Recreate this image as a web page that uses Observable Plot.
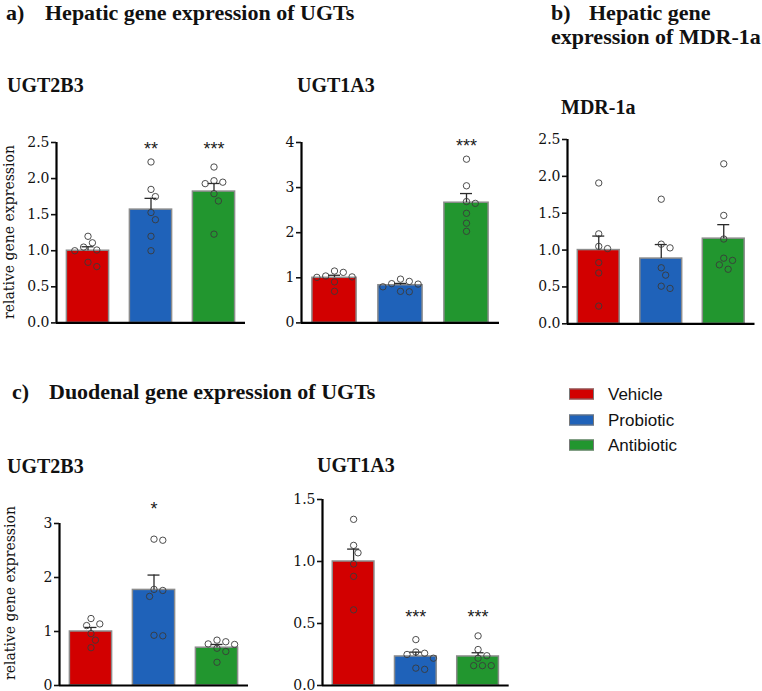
<!DOCTYPE html>
<html><head><meta charset="utf-8">
<script src="https://cdn.jsdelivr.net/npm/d3@7"></script>
<script src="https://cdn.jsdelivr.net/npm/@observablehq/plot@0.6"></script>
<style>
body{margin:0;background:#fff;}
#fig{position:relative;width:762px;height:691px;overflow:hidden;background:#fff;}
.t{position:absolute;white-space:nowrap;font-family:"Liberation Serif",serif;font-weight:bold;color:#111;line-height:1.1;transform:translateY(-50%);}
.h{font-size:22px;}
.g{font-size:20px;}
.yl{position:absolute;font-family:"DejaVu Serif",serif;font-size:14px;white-space:nowrap;color:#111;line-height:1;transform:translate(-50%,-50%) rotate(-90deg);}
.pl{position:absolute;}
.lg{position:absolute;font-family:"Liberation Sans",Arial,sans-serif;font-size:17px;color:#111;line-height:1;transform:translateY(-50%);white-space:nowrap;}
.sw{position:absolute;width:25px;height:11px;box-sizing:border-box;border:1px solid #777;transform:translateY(-50%);}
</style></head>
<body>
<div id="fig"></div>
<script>
// ---------- data ----------
const groups = ["Vehicle", "Probiotic", "Antibiotic"];
const groupColors = ["#d20000", "#1f62b9", "#22962f"];

// a) Hepatic UGT2B3
const hepUGT2B3_vehicle    = [1.20, 1.11, 1.01, 1.00, 1.05, 0.84, 0.78];
const hepUGT2B3_probiotic  = [2.23, 1.85, 1.75, 1.53, 1.43, 1.20, 1.00];
const hepUGT2B3_antibiotic = [2.16, 1.97, 1.93, 1.95, 1.79, 1.69, 1.23];
const hepUGT2B3_mean = [1.00, 1.57, 1.82];
const hepUGT2B3_sem  = [0.055, 0.156, 0.112];
const hepUGT2B3_sig  = ["", "**", "***"];
const hepUGT2B3_ticks = [0, 0.5, 1, 1.5, 2, 2.5];

// a) Hepatic UGT1A3
const hepUGT1A3_vehicle    = [1.04, 1.12, 1.01, 1.15, 1.02, 0.91, 0.70];
const hepUGT1A3_probiotic  = [0.87, 0.80, 0.97, 0.92, 0.86, 0.69, 0.70];
const hepUGT1A3_antibiotic = [3.63, 3.04, 2.65, 2.69, 2.43, 2.21, 2.03];
const hepUGT1A3_mean = [1.00, 0.835, 2.665];
const hepUGT1A3_sem  = [0.056, 0.040, 0.203];
const hepUGT1A3_sig  = ["", "", "***"];
const hepUGT1A3_ticks = [0, 1, 2, 3, 4];

// b) Hepatic MDR-1a
const hepMDR1a_vehicle    = [1.91, 1.22, 1.05, 1.02, 0.83, 0.69, 0.24];
const hepMDR1a_probiotic  = [1.69, 1.03, 1.08, 0.76, 0.66, 0.48, 0.51];
const hepMDR1a_antibiotic = [2.17, 1.47, 1.15, 0.89, 0.86, 0.80, 0.74];
const hepMDR1a_mean = [1.00, 0.885, 1.155];
const hepMDR1a_sem  = [0.19, 0.19, 0.19];
const hepMDR1a_sig  = ["", "", ""];
const hepMDR1a_ticks = [0, 0.5, 1, 1.5, 2, 2.5];

// c) Duodenal UGT2B3
const duoUGT2B3_vehicle    = [1.24, 1.11, 1.14, 0.96, 0.84, 0.70];
const duoUGT2B3_probiotic  = [2.69, 2.71, 1.76, 1.78, 1.65, 0.92, 0.93];
const duoUGT2B3_antibiotic = [0.84, 0.81, 0.77, 0.76, 0.69, 0.63, 0.43];
const duoUGT2B3_mean = [1.00, 1.77, 0.70];
const duoUGT2B3_sem  = [0.075, 0.275, 0.06];
const duoUGT2B3_sig  = ["", "*", ""];
const duoUGT2B3_ticks = [0, 1, 2, 3];

// c) Duodenal UGT1A3
const duoUGT1A3_vehicle    = [1.34, 1.13, 1.07, 0.98, 0.88, 0.61];
const duoUGT1A3_probiotic  = [0.37, 0.27, 0.26, 0.25, 0.22, 0.13, 0.14];
const duoUGT1A3_antibiotic = [0.40, 0.29, 0.24, 0.22, 0.16, 0.16, 0.16];
const duoUGT1A3_mean = [1.00, 0.234, 0.234];
const duoUGT1A3_sem  = [0.10, 0.035, 0.03];
const duoUGT1A3_sig  = ["", "***", "***"];
const duoUGT1A3_ticks = [0, 0.5, 1, 1.5];

// ---------- layout ----------
const fig = document.getElementById("fig");

function addText(cls, txt, left, cy) {
  const d = document.createElement("div");
  d.className = cls; d.textContent = txt;
  d.style.left = left + "px"; d.style.top = cy + "px";
  fig.appendChild(d);
}

function dodge(vals, pxPerY, pxPerX) {
  const minD = 7.8, step = 4.4;
  const order = d3.range(vals.length).sort((a, b) => vals[b] - vals[a]);
  const placed = [], out = new Array(vals.length).fill(0);
  for (const i of order) {
    const py = vals[i] * pxPerY;
    let done = false;
    for (let k = 0; k < 30 && !done; k++) {
      const cands = k === 0 ? [0] : [k, -k];
      for (const c of cands) {
        const px = c * step;
        if (placed.every(p => Math.hypot(p[0] - px, p[1] - py) >= minD)) {
          placed.push([px, py]); out[i] = px / pxPerX; done = true; break;
        }
      }
    }
  }
  return out;
}

function panel(cfg) {
  const mL = 42, mR = 6, mT = 34, mB = 8;
  const pw = cfg.x1 - cfg.x0, ph = cfg.yBot - cfg.yTop;
  const width = mL + pw + mR, height = mT + ph + mB;
  const pxPerX = pw / 3, pxPerY = ph / cfg.yMax;
  const bars = groups.map((g, i) => ({g, i, mean: cfg.means[i], sem: cfg.sems[i], sig: cfg.sigs[i], color: groupColors[i]}));
  const pts = [];
  cfg.vals.forEach((arr, i) => {
    const off = dodge(arr, pxPerY, pxPerX);
    arr.forEach((v, j) => pts.push({i, v, x: i + off[j]}));
  });
  const cap = 6 / pxPerX, hw = 0.335;
  const svg = Plot.plot({
    width, height, marginLeft: mL, marginRight: mR, marginTop: mT, marginBottom: mB,
    style: {background: "transparent", fontFamily: "DejaVu Serif, serif", fontSize: "14px", color: "#111", overflow: "visible"},
    x: {domain: [-0.5, 2.5], axis: null},
    y: {domain: [0, cfg.yMax], axis: null},
    marks: [
      Plot.rectY(bars, {x1: d => d.i - hw, x2: d => d.i + hw, y1: 0, y2: "mean", fill: "color", stroke: "#8c8c8c", strokeWidth: 1.5}),
      Plot.ruleX(bars, {x: "i", y1: "mean", y2: d => d.mean + d.sem, stroke: "#2a2a2a", strokeWidth: 1.3}),
      Plot.ruleY(bars, {x1: d => d.i - cap, x2: d => d.i + cap, y: d => d.mean + d.sem, stroke: "#2a2a2a", strokeWidth: 1.3}),
      Plot.dot(pts, {x: "x", y: "v", r: 3.2, stroke: "#3a3a3a", strokeWidth: 0.9, fill: "none"}),
      Plot.ruleX([-0.5], {y1: 0, y2: cfg.yMax, stroke: "#000", strokeWidth: 2.2}),
      Plot.ruleY([0], {x1: -0.5, x2: 2.5, stroke: "#000", strokeWidth: 2.2}),
      Plot.axisY(cfg.ticks, {tickFormat: cfg.fmt, tickSize: 5, tickPadding: 2, strokeWidth: 1.6, fontSize: 14, label: null}),
      Plot.text(bars, {x: "i", text: "sig", frameAnchor: "top", dy: cfg.sigDy, fontFamily: "Liberation Sans, Arial, sans-serif", fontSize: 18, fill: "#1a1a1a"})
    ]
  });
  svg.classList.add("pl");
  svg.style.left = (cfg.x0 - mL) + "px";
  svg.style.top = (cfg.yTop - mT) + "px";
  fig.appendChild(svg);
}

panel({vals: [hepUGT2B3_vehicle, hepUGT2B3_probiotic, hepUGT2B3_antibiotic], means: hepUGT2B3_mean, sems: hepUGT2B3_sem, sigs: hepUGT2B3_sig,
  ticks: hepUGT2B3_ticks, fmt: ".1f", yMax: 2.5, x0: 56, x1: 245, yTop: 142.3, yBot: 322.7, sigDy: 0});
panel({vals: [hepUGT1A3_vehicle, hepUGT1A3_probiotic, hepUGT1A3_antibiotic], means: hepUGT1A3_mean, sems: hepUGT1A3_sem, sigs: hepUGT1A3_sig,
  ticks: hepUGT1A3_ticks, fmt: "d", yMax: 4, x0: 300.5, x1: 498.5, yTop: 142.3, yBot: 322.7, sigDy: -3});
panel({vals: [hepMDR1a_vehicle, hepMDR1a_probiotic, hepMDR1a_antibiotic], means: hepMDR1a_mean, sems: hepMDR1a_sem, sigs: hepMDR1a_sig,
  ticks: hepMDR1a_ticks, fmt: ".1f", yMax: 2.5, x0: 567, x1: 754.5, yTop: 139, yBot: 323.3, sigDy: 0});
panel({vals: [duoUGT2B3_vehicle, duoUGT2B3_probiotic, duoUGT2B3_antibiotic], means: duoUGT2B3_mean, sems: duoUGT2B3_sem, sigs: duoUGT2B3_sig,
  ticks: duoUGT2B3_ticks, fmt: "d", yMax: 3, x0: 58.5, x1: 247.5, yTop: 523, yBot: 685, sigDy: -21});
panel({vals: [duoUGT1A3_vehicle, duoUGT1A3_probiotic, duoUGT1A3_antibiotic], means: duoUGT1A3_mean, sems: duoUGT1A3_sem, sigs: duoUGT1A3_sig,
  ticks: duoUGT1A3_ticks, fmt: ".1f", yMax: 1.5, x0: 322.3, x1: 509, yTop: 499, yBot: 685, sigDy: 111});

// titles
addText("t h", "a)", 6, 13);
addText("t h", "Hepatic gene expression of UGTs", 45, 13);
addText("t h", "b)", 551, 13);
addText("t h", "Hepatic gene", 589, 13);
addText("t h", "expression of MDR-1a", 551, 37);
addText("t g", "UGT2B3", 7, 85);
addText("t g", "UGT1A3", 297, 85);
addText("t g", "MDR-1a", 561, 107);
addText("t h", "c)", 12, 392);
addText("t h", "Duodenal gene expression of UGTs", 49, 392);
addText("t g", "UGT2B3", 7, 466);
addText("t g", "UGT1A3", 317, 465);
addText("yl", "relative gene expression", 9, 231.5);
addText("yl", "relative gene expression", 10, 593);

// legend
groups.forEach((g, i) => {
  const cy = 394 + i * 25.5;
  const sw = document.createElement("div");
  sw.className = "sw"; sw.style.left = "569px"; sw.style.top = cy + "px"; sw.style.background = groupColors[i];
  fig.appendChild(sw);
  addText("lg", g, 608, cy);
});
</script>
</body></html>
